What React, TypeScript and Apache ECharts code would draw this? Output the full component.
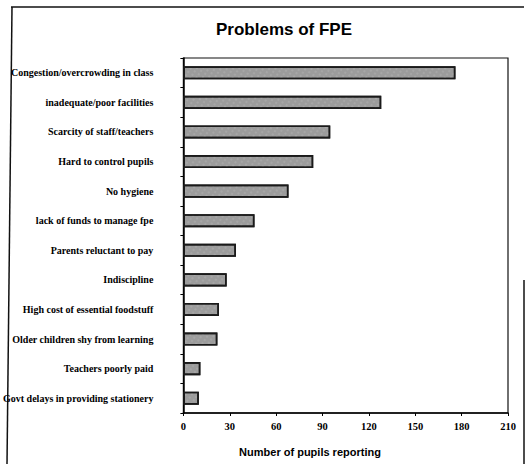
import React, { useEffect, useRef } from "react";
import * as echarts from "echarts";

const title = "Problems of FPE";
const xAxisName = "Number of pupils reporting";
const categories = [
  "Congestion/overcrowding in class",
  "inadequate/poor facilities",
  "Scarcity of staff/teachers",
  "Hard to control pupils",
  "No hygiene",
  "lack of funds to manage fpe",
  "Parents reluctant to pay",
  "Indiscipline",
  "High cost of essential foodstuff",
  "Older children shy from learning",
  "Teachers poorly paid",
  "Govt delays in providing stationery",
];
const values = [176, 128, 95, 84, 68, 46, 34, 28, 23, 22, 11, 10];
const xTicks = [0, 30, 60, 90, 120, 150, 180, 210];

export default function App() {
  const ref = useRef<HTMLDivElement>(null);
  useEffect(() => {
    const chart = echarts.init(ref.current!, null, { renderer: "svg" });
    chart.setOption({
      animation: false,
      backgroundColor: "#fff",
      grid: {
        left: 180,
        right: 18,
        top: 58,
        bottom: 51,
        show: true,
        borderColor: "#111",
        borderWidth: 1.2,
        backgroundColor: "transparent",
      },
      xAxis: {
        type: "value",
        min: xTicks[0],
        max: xTicks[xTicks.length - 1],
        interval: 30,
        axisLine: { show: true, lineStyle: { color: "#000", width: 1.5 } },
        axisTick: { show: true, length: 3, lineStyle: { color: "#000" } },
        splitLine: { show: false },
        axisLabel: {
          color: "#000",
          fontFamily: "Liberation Serif",
          fontWeight: "bold",
          fontSize: 10.5,
          margin: 8,
        },
      },
      yAxis: {
        type: "category",
        data: categories,
        inverse: true,
        axisLine: { show: true, lineStyle: { color: "#000", width: 1.5 } },
        axisTick: { show: true, length: 3, lineStyle: { color: "#000" } },
        axisLabel: {
          color: "#000",
          fontFamily: "Liberation Serif",
          fontWeight: "bold",
          fontSize: 10,
          margin: 30,
        },
      },
      series: [
        {
          type: "bar",
          data: values,
          barWidth: "44%",
          itemStyle: {
            color: "#9c9c9c",
            borderColor: "#1a1a1a",
            borderWidth: 1.6,
            decal: {
              symbol: "rect",
              symbolSize: 0.6,
              color: "rgba(255,255,255,0.35)",
              dashArrayX: [2, 3],
              dashArrayY: [2, 2],
              rotation: 0.6,
            },
          },
        },
      ],
      graphic: [
        {
          type: "text",
          x: 284,
          y: 29,
          style: {
            text: title,
            font: "bold 17px 'Liberation Sans', Arial, sans-serif",
            fill: "#000",
            align: "center",
            verticalAlign: "middle",
          },
        },
        {
          type: "text",
          x: 310,
          y: 452,
          style: {
            text: xAxisName,
            font: "bold 11px 'Liberation Sans', Arial, sans-serif",
            fill: "#000",
            align: "center",
            verticalAlign: "middle",
          },
        },
        {
          type: "line",
          shape: { x1: 11, y1: 7, x2: 524, y2: 7 },
          style: { stroke: "#111", lineWidth: 1.5 },
        },
        {
          type: "line",
          shape: { x1: 12, y1: 7, x2: 7, y2: 464 },
          style: { stroke: "#111", lineWidth: 1.5 },
        },
        {
          type: "line",
          shape: { x1: 524, y1: 280, x2: 524, y2: 464 },
          style: { stroke: "#111", lineWidth: 1.5 },
        },
      ],
    });
    return () => chart.dispose();
  }, []);
  return (
    <div
      ref={ref}
      style={{ position: "fixed", left: 0, top: 0, width: 526, height: 464 }}
    />
  );
}
